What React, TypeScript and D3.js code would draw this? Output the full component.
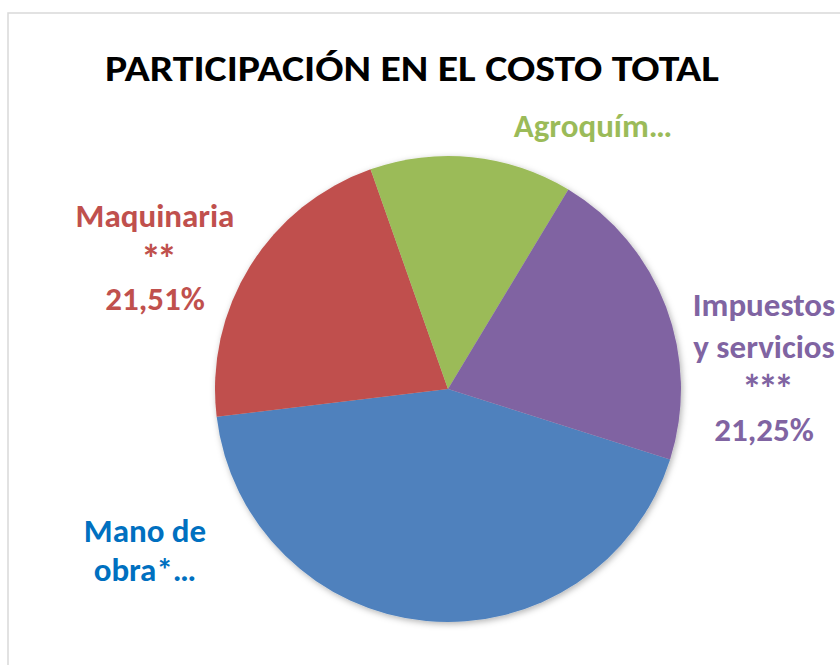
import React from "react";
import * as d3 from "d3";

// ---- data ----
const categories = ["Mano de obra*", "Maquinaria **", "Agroquímicos", "Impuestos y servicios ***"];
const shares = [43.21, 21.51, 14.03, 21.25];
const sliceColors = ["#4F81BD", "#C0504D", "#9BBB59", "#8064A2"];
const labelColors = ["#0070C0", "#C0504D", "#9BBB59", "#8064A2"];
const labelLines = [
  ["Mano de", "obra*…"],
  ["Maquinaria", "**", "21,51%"],
  ["Agroquím…"],
  ["Impuestos", "y servicios", "***", "21,25%"],
];
const title = "PARTICIPACIÓN EN EL COSTO TOTAL";

// ---- layout ----
const W = 840;
const H = 665;
const cx = 448;
const cy = 389;
const R = 233;
const firstSliceAngleDeg = 107.6;
// label anchors (x centre, first baseline, line height)
const labelLayout = [
  { x: 145, y: 542, lh: 39 },
  { x: 155, y: 227, lh: 41.5 },
  { x: 593, y: 137, lh: 41.5 },
  { x: 764, y: 316, lh: 41.5 },
];
const FONT = "Carlito, Calibri, Lato, 'Open Sans', sans-serif";

export default function App() {
  const start = (firstSliceAngleDeg * Math.PI) / 180;
  const pie = d3
    .pie<number>()
    .sort(null)
    .value((d) => d)
    .startAngle(start)
    .endAngle(start + 2 * Math.PI);
  const arcs = pie(shares);
  const arcGen = d3.arc<d3.PieArcDatum<number>>().innerRadius(0).outerRadius(R);

  return (
    <svg
      width={W}
      height={H}
      style={{ position: "absolute", left: 0, top: 0, background: "#fff" }}
    >
      <defs>
        <filter id="shadow" x="-20%" y="-20%" width="140%" height="140%">
          <feDropShadow dx="1.5" dy="2" stdDeviation="3" floodColor="#000" floodOpacity="0.3" />
        </filter>
      </defs>
      <rect x={0} y={0} width={W} height={H} fill="#fff" />
      <rect x={8} y={13} width={W + 20} height={H + 20} fill="#fff" stroke="#D9D9D9" strokeWidth={1.5} />
      <text
        x={105}
        y={81}
        textLength={614}
        lengthAdjust="spacingAndGlyphs"
        fontFamily={FONT}
        fontWeight={900}
        fontSize={37}
        fill="#000"
      >
        {title}
      </text>
      <g transform={`translate(${cx},${cy})`} filter="url(#shadow)">
        {arcs.map((a, i) => (
          <path key={categories[i]} d={arcGen(a) || ""} fill={sliceColors[i]} />
        ))}
      </g>
      {labelLines.map((lines, i) => (
        <text
          key={categories[i]}
          fontFamily={FONT}
          fontWeight="bold"
          fontSize={33}
          fill={labelColors[i]}
          textAnchor="middle"
        >
          {lines.map((ln, j) => {
            const star = ln.startsWith("*");
            return (
              <tspan
                key={j}
                x={labelLayout[i].x + (star ? 2 : 0)}
                y={labelLayout[i].y + j * labelLayout[i].lh + (star ? 4 : 0)}
                fontSize={star ? 40 : undefined}
                letterSpacing={star ? -4 : undefined}
              >
                {ln}
              </tspan>
            );
          })}
        </text>
      ))}
    </svg>
  );
}
